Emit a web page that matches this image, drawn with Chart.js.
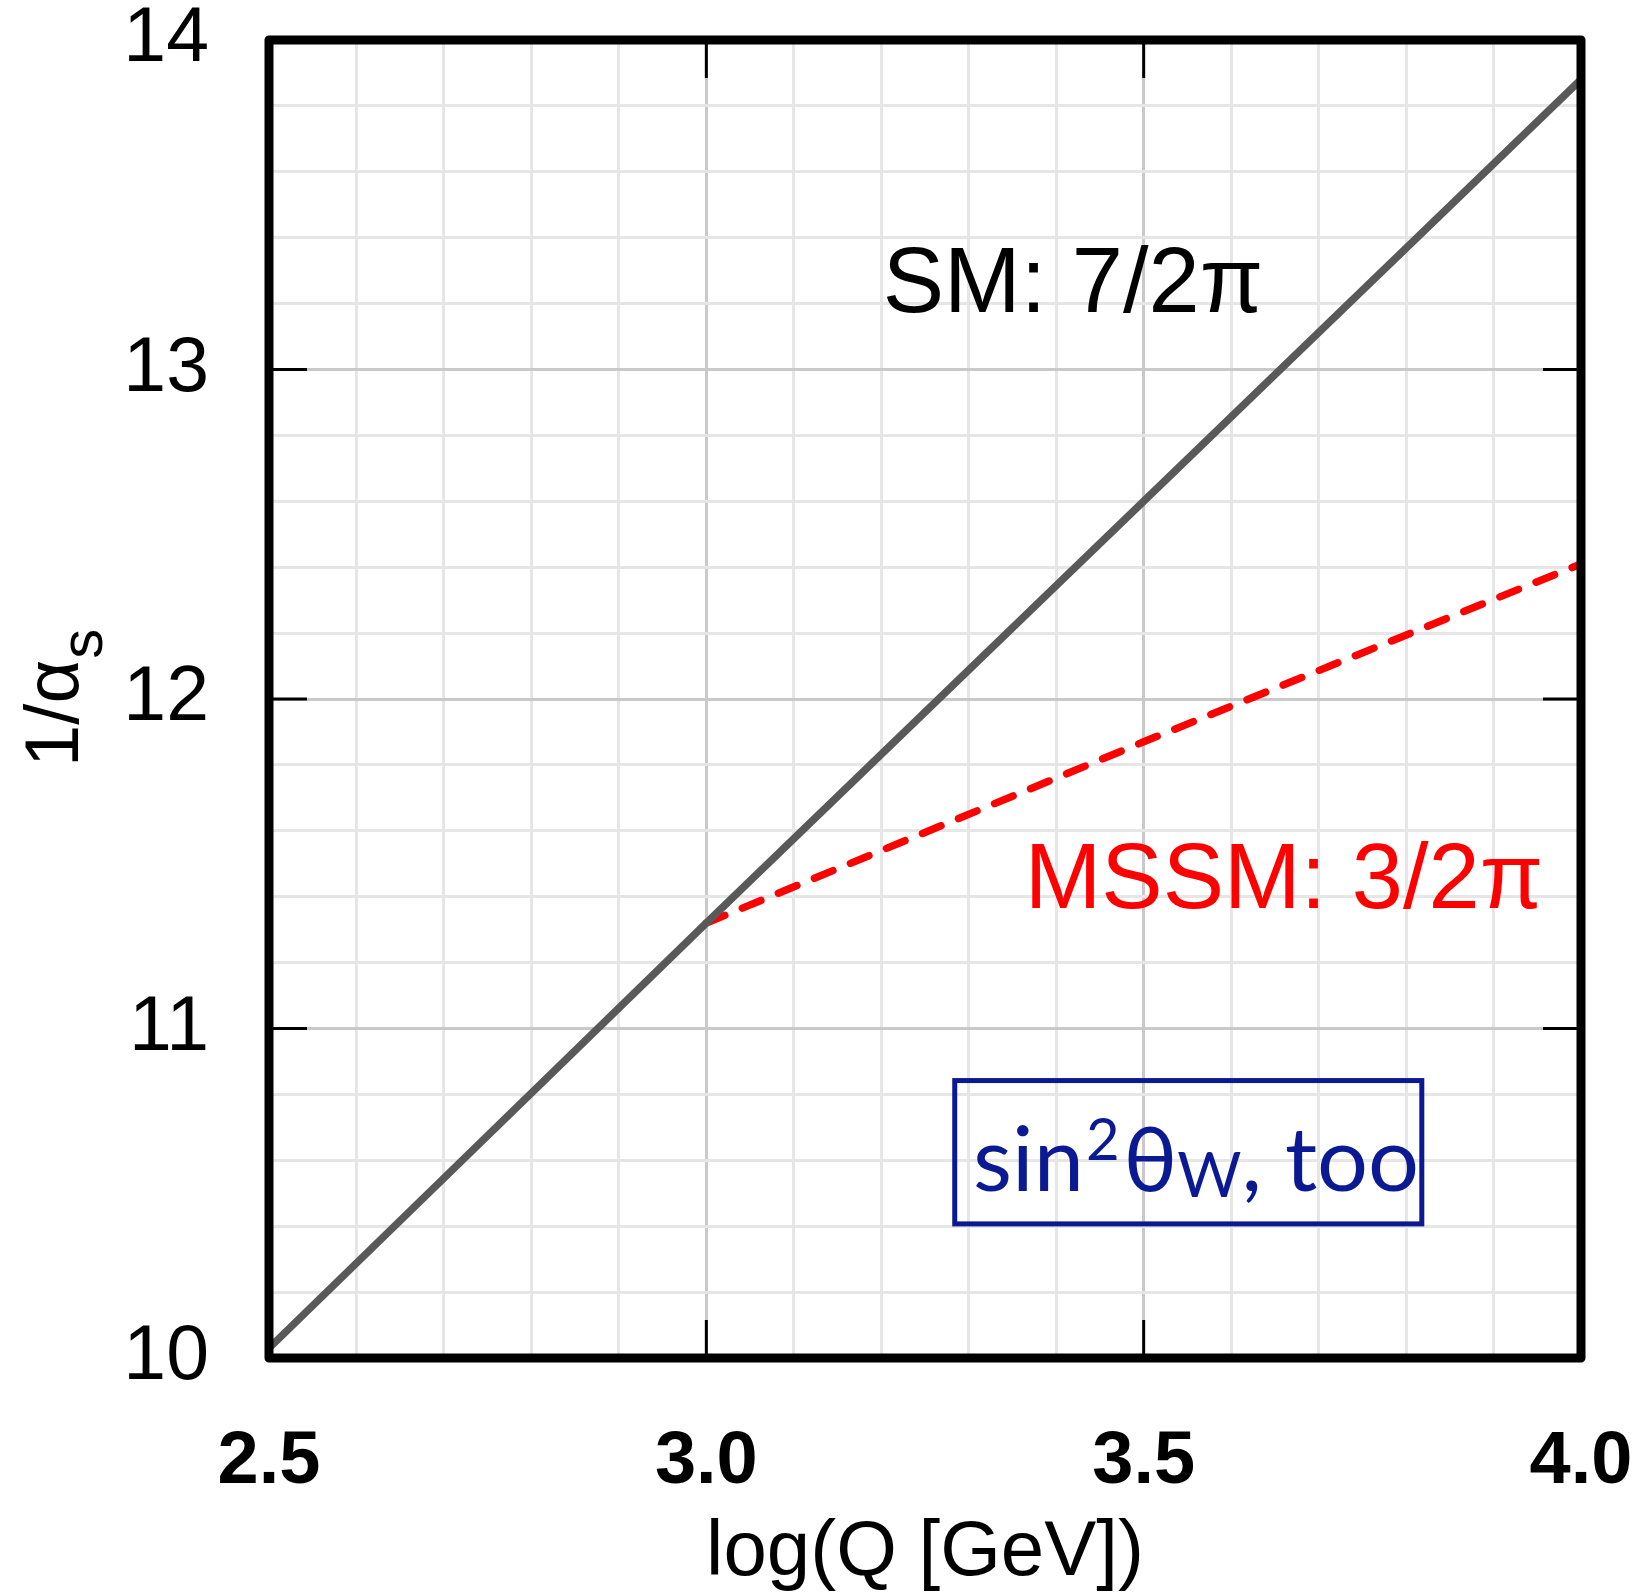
<!DOCTYPE html>
<html>
<head>
<meta charset="utf-8">
<title>1/alpha_s running</title>
<script src="https://cdn.jsdelivr.net/npm/chart.js@4"></script>
<style>
  html, body { margin:0; padding:0; background:#fff; }
  #wrap { width:1641px; height:1594px; }
</style>
</head>
<body>
<div id="wrap"><canvas id="chart" width="1641" height="1594"></canvas></div>
<script>
// values
const smX = [2.5, 3.0, 3.5, 4.0];
const smY = [10.03, 11.32, 12.60, 13.88];
const mssmX = [3.0, 3.5, 4.0];
const mssmY = [11.32, 11.87, 12.41];

const xMajor = [2.5, 3.0, 3.5, 4.0];
const yMajor = [10, 11, 12, 13, 14];

const FONT = '"Liberation Sans", Arial, Helvetica, sans-serif';

function isMajor(list, v){ return list.some(m => Math.abs(m - v) < 1e-6); }
function pts(xs, ys){ return xs.map((x,i)=>({x, y: ys[i]})); }

// frame, inward tick marks, text labels
const decor = {
  id: 'decor',
  afterDatasetsDraw(chart){
    const {ctx, chartArea:a, scales:{x, y}} = chart;
    ctx.save();
    // major tick marks
    ctx.strokeStyle = '#000'; ctx.lineWidth = 3; ctx.lineCap = 'butt';
    const tl = 38;
    xMajor.slice(1,-1).forEach(v=>{
      const px = x.getPixelForValue(v);
      ctx.beginPath(); ctx.moveTo(px, a.bottom); ctx.lineTo(px, a.bottom - tl); ctx.stroke();
      ctx.beginPath(); ctx.moveTo(px, a.top); ctx.lineTo(px, a.top + tl); ctx.stroke();
    });
    yMajor.slice(1,-1).forEach(v=>{
      const py = y.getPixelForValue(v);
      ctx.beginPath(); ctx.moveTo(a.left, py); ctx.lineTo(a.left + tl, py); ctx.stroke();
      ctx.beginPath(); ctx.moveTo(a.right, py); ctx.lineTo(a.right - tl, py); ctx.stroke();
    });
    // frame
    ctx.lineWidth = 9; ctx.lineJoin = 'round';
    ctx.strokeRect(a.left, a.top, a.right - a.left, a.bottom - a.top);

    // curve labels
    ctx.textAlign = 'left'; ctx.textBaseline = 'alphabetic';
    ctx.font = '92px ' + FONT;
    ctx.fillStyle = '#000';
    ctx.fillText('SM: 7/2\u03c0', x.getPixelForValue(3.2017), y.getPixelForValue(13.173));
    ctx.fillStyle = '#ff0000';
    ctx.fillText('MSSM: 3/2\u03c0', x.getPixelForValue(3.364), y.getPixelForValue(11.365));

    // boxed note
    const navy = '#0b1a92';
    const bx0 = x.getPixelForValue(3.284), bx1 = x.getPixelForValue(3.818);
    const by0 = y.getPixelForValue(10.842), by1 = y.getPixelForValue(10.407);
    ctx.strokeStyle = navy; ctx.lineWidth = 5; ctx.lineJoin = 'miter';
    ctx.strokeRect(bx0, by0, bx1 - bx0, by1 - by0);
    ctx.fillStyle = navy;
    let tx = x.getPixelForValue(3.305);
    const base = y.getPixelForValue(10.507);
    const lato = 'Lato, "Open Sans", sans-serif';
    ctx.font = '90px ' + lato;
    ctx.fillText('sin', tx, base); tx += ctx.measureText('sin').width + 2;
    ctx.font = '58px ' + lato;
    ctx.fillText('2', tx, base - 31); tx += ctx.measureText('2').width + 4;
    ctx.font = '90px ' + lato;
    ctx.fillText('\u03b8', tx, base); tx += ctx.measureText('\u03b8').width;
    ctx.font = '62px ' + lato;
    ctx.fillText('W', tx, base + 6); tx += ctx.measureText('W').width;
    ctx.font = '90px ' + lato;
    ctx.fillText(', too', tx, base);

    // y title 1/alpha_s
    ctx.fillStyle = '#000';
    ctx.translate(78, 767);
    ctx.rotate(-Math.PI/2);
    ctx.font = '76px ' + FONT;
    ctx.fillText('1/\u03b1', 0, 0);
    const w = ctx.measureText('1/\u03b1').width;
    ctx.font = '60px ' + FONT;
    ctx.fillText('s', w + 1, 24);
    ctx.restore();
  }
};

new Chart(document.getElementById('chart'), {
  type: 'scatter',
  data: {
    datasets: [
      { label:'SM', data: pts(smX, smY), showLine:true, borderColor:'#595959', borderWidth:7.5, pointRadius:0, fill:false },
      { label:'MSSM', data: pts(mssmX, mssmY), showLine:true, borderColor:'#ff0000', borderWidth:7.5, borderDash:[20,19], borderCapStyle:'round', pointRadius:0, fill:false }
    ]
  },
  options: {
    responsive:false, animation:false, devicePixelRatio:1,
    layout:{ padding:{ left:0, top:40, right:60, bottom:0 } },
    plugins:{ legend:{display:false}, tooltip:{enabled:false} },
    scales:{
      x:{
        type:'linear', min:2.5, max:4.0,
        afterFit: s => { s.height = 236; s.paddingLeft = 0; s.paddingRight = 0; },
        border:{ display:false },
        grid:{ drawTicks:false, lineWidth:3, color: c => isMajor(xMajor, c.tick.value) ? '#c9c9c9' : '#e6e6e6' },
        ticks:{ stepSize:0.1, autoSkip:false, maxRotation:0, padding:60, color:'#000',
          font:{ family:FONT, size:74, weight:'bold' },
          callback: v => isMajor(xMajor, v) ? v.toFixed(1) : '' },
        title:{ display:true, text:'log(Q [GeV])', color:'#000', padding:{top:0, bottom:2},
          font:{ family:FONT, size:78, lineHeight:1 } }
      },
      y:{
        type:'linear', min:10, max:14,
        afterFit: s => { s.width = 269; s.paddingTop = 0; s.paddingBottom = 0; },
        border:{ display:false },
        grid:{ drawTicks:false, lineWidth:3, color: c => isMajor(yMajor, c.tick.value) ? '#c9c9c9' : '#e6e6e6' },
        ticks:{ stepSize:0.2, autoSkip:false, padding:60, color:'#000',
          font:{ family:FONT, size:77 },
          callback: v => isMajor(yMajor, v) ? String(Math.round(v)) : '' }
      }
    }
  },
  plugins:[decor]
});
</script>
</body>
</html>
